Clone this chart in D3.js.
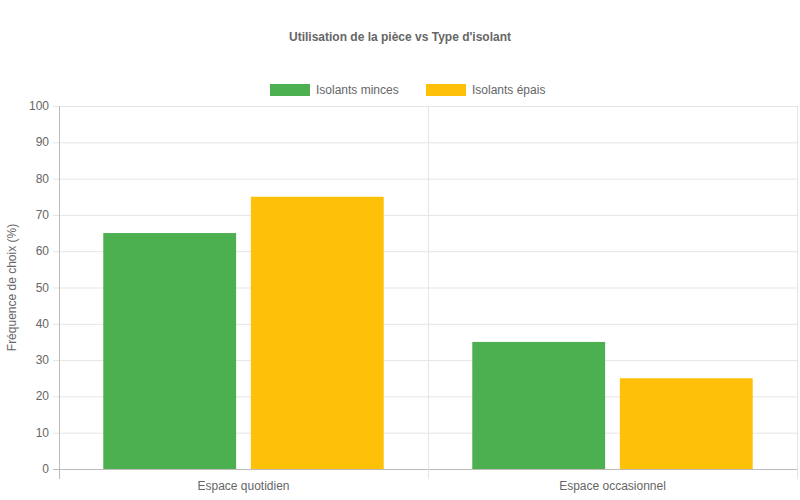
<!DOCTYPE html>
<html>
<head>
<meta charset="utf-8">
<script src="https://cdn.jsdelivr.net/npm/d3@7"></script>
<style>
body { margin: 0; background: #fff; }
text { font-family: "Liberation Sans", Arial, sans-serif; fill: #666; }
</style>
</head>
<body>
<div id="root"></div>
<script>
const categories = ["Espace quotidien", "Espace occasionnel"];
const seriesNames = ["Isolants minces", "Isolants épais"];
const seriesColors = ["#4CAF50", "#FFC107"];
const thinValues = [65, 35];
const thickValues = [75, 25];
const yTicks = [0, 10, 20, 30, 40, 50, 60, 70, 80, 90, 100];

const width = 800, height = 500;
const margin = { top: 106, right: 3, bottom: 31, left: 59 };

const svg = d3.select("#root").append("svg")
    .attr("width", width)
    .attr("height", height);

const x = d3.scaleBand()
    .domain(categories)
    .range([margin.left, width - margin.right]);

const inner = d3.scaleBand()
    .domain(seriesNames)
    .range([0, x.bandwidth() * 0.8])
    .paddingInner(0.1)
    .paddingOuter(0.05);

const y = d3.scaleLinear()
    .domain([0, 100])
    .range([height - margin.bottom, margin.top]);

// horizontal grid
svg.append("g")
    .selectAll("line")
    .data(yTicks)
    .enter()
    .append("line")
        .attr("x1", margin.left - 6)
        .attr("x2", width - margin.right)
        .attr("y1", d => y(d) + 0.5)
        .attr("y2", d => y(d) + 0.5)
        .attr("stroke", d => d === 0 ? "#bbb" : "#e5e5e5");

// vertical grid
const vLines = [margin.left, x(categories[1]), width - margin.right];
svg.append("g")
    .selectAll("line")
    .data(vLines)
    .enter()
    .append("line")
        .attr("x1", d => Math.round(d) + 0.5)
        .attr("x2", d => Math.round(d) + 0.5)
        .attr("y1", margin.top)
        .attr("y2", height - margin.bottom + 10)
        .attr("stroke", (d, i) => i === 0 ? "#bbb" : "#e5e5e5");

// y tick labels
svg.append("g")
    .selectAll("text")
    .data(yTicks)
    .enter()
    .append("text")
        .attr("x", margin.left - 10)
        .attr("y", d => y(d) + 4)
        .attr("text-anchor", "end")
        .attr("font-size", 12)
        .text(d => d);

// x labels
svg.append("g")
    .selectAll("text")
    .data(categories)
    .enter()
    .append("text")
        .attr("x", d => x(d) + x.bandwidth() / 2)
        .attr("y", height - margin.bottom + 21)
        .attr("text-anchor", "middle")
        .attr("font-size", 12)
        .text(d => d);

// bars
const series = [thinValues, thickValues];
series.forEach((vals, si) => {
    svg.append("g")
        .selectAll("rect")
        .data(categories)
        .enter()
        .append("rect")
            .attr("x", d => x(d) + x.bandwidth() * 0.1 + inner(seriesNames[si]))
            .attr("y", (d, i) => y(vals[i]))
            .attr("width", inner.bandwidth())
            .attr("height", (d, i) => y(0) - y(vals[i]))
            .attr("fill", seriesColors[si]);
});

// y axis label
svg.append("text")
    .attr("transform", `translate(16, ${(margin.top + height - margin.bottom) / 2}) rotate(-90)`)
    .attr("text-anchor", "middle")
    .attr("font-size", 12)
    .text("Fréquence de choix (%)");

// title
svg.append("text")
    .attr("x", width / 2)
    .attr("y", 41)
    .attr("text-anchor", "middle")
    .attr("font-size", 12)
    .attr("font-weight", "bold")
    .text("Utilisation de la pièce vs Type d'isolant");

// legend
const legendX = [270, 426];
const legend = svg.append("g");
seriesNames.forEach((name, i) => {
    legend.append("rect")
        .attr("x", legendX[i])
        .attr("y", 84)
        .attr("width", 40)
        .attr("height", 12)
        .attr("fill", seriesColors[i]);
    legend.append("text")
        .attr("x", legendX[i] + 46)
        .attr("y", 94)
        .attr("font-size", 12)
        .text(name);
});
</script>
</body>
</html>
